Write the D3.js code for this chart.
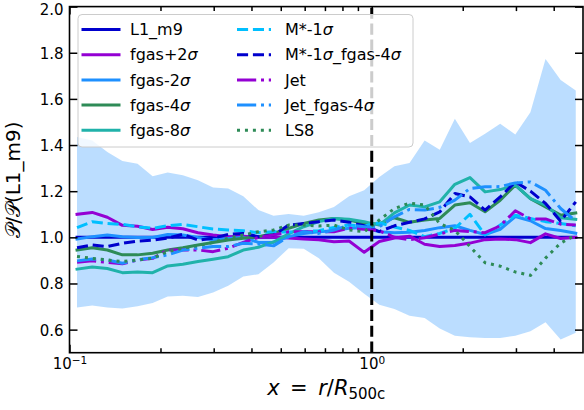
<!DOCTYPE html>
<html>
<head>
<meta charset="utf-8">
<script src="https://cdn.jsdelivr.net/npm/d3@7"></script>
<style>
  body { margin: 0; background: #fff; }
  svg { display: block; font-family: "DejaVu Sans", sans-serif; }
</style>
</head>
<body>
<svg id="chart" width="584" height="410"></svg>
<script>
// Radial bin centres, x = r / R500c
const radius = [0.1059, 0.1189, 0.1334, 0.1496, 0.1679, 0.1884, 0.2113, 0.2371, 0.2661, 0.2985,
                0.3350, 0.3758, 0.4217, 0.4732, 0.5309, 0.5957, 0.6683, 0.7499, 0.8414, 0.9441,
                1.0593, 1.1885, 1.3335, 1.4962, 1.6788, 1.8836, 2.1135, 2.3714, 2.6607, 2.9854,
                3.3497, 3.7584, 4.2170, 4.7315];

// Scatter envelope of the reference run
const bandLow  = [0.696, 0.705, 0.696, 0.692, 0.701, 0.715, 0.744, 0.747, 0.741, 0.761,
                  0.790, 0.830, 0.840, 0.891, 0.953, 0.951, 0.909, 0.847, 0.808, 0.755,
                  0.708, 0.689, 0.660, 0.650, 0.605, 0.574, 0.567, 0.564, 0.564, 0.574,
                  0.593, 0.632, 0.557, 0.586];
const bandHigh = [1.435, 1.420, 1.370, 1.331, 1.319, 1.265, 1.281, 1.269, 1.247, 1.216,
                  1.212, 1.178, 1.118, 1.094, 1.101, 1.094, 1.109, 1.132, 1.178, 1.204,
                  1.262, 1.308, 1.322, 1.420, 1.380, 1.514, 1.409, 1.449, 1.492, 1.446,
                  1.542, 1.773, 1.682, 1.636];

// Pressure ratio to L1_m9 for each model
const L1_m9 = [1, 1, 1, 1, 1, 1, 1, 1, 1, 1, 1, 1, 1, 1, 1, 1, 1, 1, 1, 1,
               1, 1, 1, 1, 1, 1, 1, 1, 1, 1, 1, 1, 1, 1];
const fgasP2 = [1.100, 1.108, 1.087, 1.052, 1.048, 1.034, 1.044, 1.037, 1.020, 1.010,
                1.003, 1.005, 1.000, 1.000, 0.997, 0.993, 0.990, 0.981, 0.984, 0.935,
                0.982, 0.997, 1.005, 0.970, 0.960, 0.965, 0.975, 0.990, 0.993, 0.990,
                0.977, 1.015, 0.995, 1.000];
const fgasM2 = [0.993, 1.003, 1.010, 1.003, 0.999, 0.999, 1.012, 1.010, 0.999, 0.990,
                0.995, 1.000, 0.978, 0.978, 1.003, 1.017, 1.024, 1.029, 1.039, 1.043,
                1.024, 1.020, 1.022, 1.030, 1.042, 1.050, 1.030, 1.012, 1.035, 1.090,
                1.072, 1.038, 1.030, 1.018];
const fgasM4 = [0.945, 0.955, 0.945, 0.924, 0.924, 0.931, 0.945, 0.955, 0.967, 0.978,
                0.988, 0.996, 1.003, 1.017, 1.039, 1.060, 1.075, 1.082, 1.075, 1.060,
                1.058, 1.085, 1.065, 1.075, 1.082, 1.140, 1.150, 1.111, 1.161, 1.226,
                1.168, 1.132, 1.096, 1.106];
const fgasM8 = [0.862, 0.871, 0.865, 0.847, 0.850, 0.847, 0.876, 0.883, 0.895, 0.905,
                0.916, 0.945, 0.957, 0.980, 1.015, 1.046, 1.068, 1.082, 1.078, 1.068,
                1.053, 1.106, 1.140, 1.132, 1.154, 1.230, 1.259, 1.197, 1.207, 1.226,
                1.168, 1.140, 1.085, 1.078];
const MsM1 = [1.042, 1.068, 1.060, 1.056, 1.046, 1.039, 1.050, 1.056, 1.046, 1.036,
              1.032, 1.029, 1.020, 1.024, 1.023, 1.024, 1.029, 1.043, 1.053, 1.049,
              1.063, 1.045, 1.030, 1.003, 1.017, 1.039, 1.100, 1.010, 1.053, 1.096,
              1.082, 1.068, 1.060, 1.050];
const MsM1_fgasM4 = [0.955, 0.967, 0.960, 0.974, 0.984, 0.988, 0.996, 1.013, 0.988, 0.996,
                     1.013, 1.017, 1.003, 1.010, 1.053, 1.060, 1.068, 1.075, 1.065, 1.050,
                     1.025, 1.050, 1.065, 1.080, 1.110, 1.190, 1.175, 1.118, 1.175, 1.240,
                     1.200, 1.147, 1.070, 1.154];
const Jet = [0.892, 0.898, 0.892, 0.885, 0.902, 0.909, 0.945, 0.945, 0.945, 0.938,
             0.953, 0.978, 1.000, 1.010, 1.024, 1.024, 1.024, 1.024, 1.039, 1.035,
             1.029, 1.000, 0.990, 0.998, 1.015, 1.030, 1.025, 1.020, 1.050, 1.115,
             1.080, 1.080, 1.057, 1.053];
const Jet_fgasM4 = [0.898, 0.906, 0.902, 0.888, 0.902, 0.912, 0.924, 0.945, 0.953, 0.960,
                    0.960, 0.974, 0.971, 0.963, 1.003, 1.024, 1.017, 1.032, 1.053, 1.046,
                    1.046, 1.089, 1.121, 1.118, 1.130, 1.161, 1.212, 1.219, 1.220, 1.236,
                    1.240, 1.204, 1.125, 1.070];
const LS8 = [0.917, 0.909, 0.902, 0.895, 0.902, 0.909, 0.938, 0.953, 0.964, 0.978,
             0.996, 1.010, 1.024, 1.032, 1.053, 1.053, 1.049, 1.053, 1.032, 1.024,
             1.075, 1.125, 1.148, 1.140, 1.060, 1.030, 0.960, 0.890, 0.875, 0.850,
             0.835, 0.910, 0.975, 1.010];

const seriesNames = ["L1_m9", "fgas+2σ", "fgas-2σ", "fgas-4σ", "fgas-8σ",
                     "M*-1σ", "M*-1σ_fgas-4σ", "Jet", "Jet_fgas-4σ", "LS8"];
const seriesValues = [L1_m9, fgasP2, fgasM2, fgasM4, fgasM8, MsM1, MsM1_fgasM4, Jet, Jet_fgasM4, LS8];

const xMajorTicks = [0.1, 1];
const xMinorTicks = [0.2, 0.3, 0.4, 0.5, 0.6, 0.7, 0.8, 0.9, 2, 3, 4];
const yTicks = [0.6, 0.8, 1.0, 1.2, 1.4, 1.6, 1.8, 2.0];

// Line styles per model
const LW = 3;
const DASH = [3.7 * LW, 1.6 * LW].join(",");
const DASHDOT = [6.4 * LW, 1.6 * LW, 1 * LW, 1.6 * LW].join(",");
const DOT = [1 * LW, 1.65 * LW].join(",");
const styles = {
  "L1_m9":         { color: "#0000cd", dash: null },
  "fgas+2σ":       { color: "#9400d3", dash: null },
  "fgas-2σ":       { color: "#1e90ff", dash: null },
  "fgas-4σ":       { color: "#2e8b57", dash: null },
  "fgas-8σ":       { color: "#20b2aa", dash: null },
  "M*-1σ":         { color: "#00bfff", dash: DASH },
  "M*-1σ_fgas-4σ": { color: "#0000cd", dash: DASH },
  "Jet":           { color: "#9400d3", dash: DASHDOT },
  "Jet_fgas-4σ":   { color: "#1e90ff", dash: DASHDOT },
  "LS8":           { color: "#2e8b57", dash: DOT }
};

const svg = d3.select("#chart");
const L = 69.5, R = 583, T = 6.6, B = 352.7;
const x = d3.scaleLog().domain([0.1, 5]).range([L, R]);
const y = d3.scaleLinear().domain([0.5, 2.0]).range([B, T]);

const defs = svg.append("defs");
defs.append("clipPath").attr("id", "plotclip")
  .append("rect").attr("x", L).attr("y", T).attr("width", R - L).attr("height", B - T);

const plot = svg.append("g").attr("clip-path", "url(#plotclip)");

// Scatter band
const area = d3.area()
  .x((d, i) => x(radius[i]))
  .y0(d => y(d[0]))
  .y1(d => y(d[1]));
plot.append("path")
  .datum(bandLow.map((v, i) => [v, bandHigh[i]]))
  .attr("d", area)
  .attr("fill", "#1e90ff")
  .attr("fill-opacity", 0.3)
  .attr("stroke", "none");

// Model curves
const line = d3.line().x((d, i) => x(radius[i])).y(d => y(d));
seriesNames.forEach((name, k) => {
  const st = styles[name];
  plot.append("path")
    .datum(seriesValues[k])
    .attr("d", line)
    .attr("fill", "none")
    .attr("stroke", st.color)
    .attr("stroke-width", LW)
    .attr("stroke-linejoin", "round")
    .attr("stroke-linecap", st.dash ? "butt" : "square")
    .attr("stroke-dasharray", st.dash);
});

// R500c marker
plot.append("line")
  .attr("x1", x(1)).attr("x2", x(1))
  .attr("y1", B).attr("y2", T)
  .attr("stroke", "#000").attr("stroke-width", 3)
  .attr("stroke-dasharray", "11.1,4.8");

// Axes with inward ticks on all four sides
function styleAxis(g) {
  g.select(".domain").remove();
  g.selectAll(".tick line").attr("stroke", "#000").attr("stroke-width", 1.5);
  g.selectAll(".tick text").attr("fill", "#000").attr("font-size", 15)
    .attr("font-family", "DejaVu Sans, sans-serif");
}
const supFmt = d => "10^" + Math.round(Math.log10(d));
const gxb = svg.append("g").attr("transform", `translate(0,${B})`)
  .call(d3.axisBottom(x).tickValues(xMajorTicks).tickSize(-8).tickPadding(6).tickFormat(supFmt))
  .call(styleAxis);
gxb.selectAll(".tick text").each(function(d) {
  const t = d3.select(this);
  const e = Math.round(Math.log10(d));
  t.text(null);
  t.append("tspan").text("10");
  t.append("tspan").attr("font-size", 10.5).attr("dy", "-0.55em")
    .text(e < 0 ? "\u2212" + (-e) : String(e));
});
svg.append("g").attr("transform", `translate(0,${B})`)
  .call(d3.axisBottom(x).tickValues(xMinorTicks).tickSize(-4.5).tickFormat(""))
  .call(styleAxis);
svg.append("g").attr("transform", `translate(0,${T})`)
  .call(d3.axisTop(x).tickValues(xMajorTicks).tickSize(-8).tickFormat(""))
  .call(styleAxis);
svg.append("g").attr("transform", `translate(0,${T})`)
  .call(d3.axisTop(x).tickValues(xMinorTicks).tickSize(-4.5).tickFormat(""))
  .call(styleAxis);
const gyl = svg.append("g").attr("transform", `translate(${L},0)`)
  .call(d3.axisLeft(y).tickValues(yTicks).tickSize(-8).tickPadding(6).tickFormat(d3.format(".1f")))
  .call(styleAxis);
// the top label sits a little lower so it stays inside the canvas
gyl.selectAll(".tick text").attr("dy", d => d >= 2.0 ? "0.5em" : "0.36em");
svg.append("g").attr("transform", `translate(${R},0)`)
  .call(d3.axisRight(y).tickValues(yTicks).tickSize(-8).tickFormat(""))
  .call(styleAxis);

// Frame
svg.append("rect")
  .attr("x", L).attr("y", T).attr("width", R - L).attr("height", B - T)
  .attr("fill", "none").attr("stroke", "#000").attr("stroke-width", 1.6);

// Legend
const leg = svg.append("g");
leg.append("rect")
  .attr("x", 78).attr("y", 14.5).attr("width", 335).attr("height", 132.5)
  .attr("rx", 4).attr("ry", 4)
  .attr("fill", "#fff").attr("fill-opacity", 0.8)
  .attr("stroke", "#cccccc").attr("stroke-width", 1);
const rowY = [29.5, 54.7, 79.9, 105.1, 130.3];
const colX = [{ h0: 83, h1: 119, tx: 130 }, { h0: 237, h1: 271, tx: 285 }];
seriesNames.forEach((name, k) => {
  const col = colX[Math.floor(k / 5)];
  const yy = rowY[k % 5];
  const st = styles[name];
  leg.append("line")
    .attr("x1", col.h0).attr("x2", col.h1).attr("y1", yy).attr("y2", yy)
    .attr("stroke", st.color).attr("stroke-width", LW)
    .attr("stroke-linecap", st.dash ? "butt" : "square")
    .attr("stroke-dasharray", st.dash);
  const t = leg.append("text")
    .attr("x", col.tx).attr("y", yy).attr("dy", "0.36em")
    .attr("font-size", 16).attr("fill", "#000");
  name.split(/(σ)/).forEach(part => {
    if (!part) return;
    const ts = t.append("tspan").text(part);
    if (part === "σ") ts.attr("font-style", "italic");
  });
});

// Axis titles
const xt = svg.append("text")
  .attr("x", (L + R) / 2).attr("y", 395)
  .attr("text-anchor", "middle").attr("font-size", 21).attr("fill", "#000");
xt.append("tspan").attr("font-style", "italic").text("x");
xt.append("tspan").text("\u2002=\u2002");
xt.append("tspan").attr("font-style", "italic").text("r");
xt.append("tspan").text("/");
xt.append("tspan").attr("font-style", "italic").text("R");
xt.append("tspan").attr("font-size", 15).attr("dy", 4).text("500c");

const yt = svg.append("text")
  .attr("transform", `translate(20,${(T + B) / 2}) rotate(-90)`)
  .attr("text-anchor", "middle").attr("font-size", 20).attr("fill", "#000");
yt.append("tspan").text("\u{1D4AB}/\u{1D4AB}(L1_m9)");
</script>
</body>
</html>
